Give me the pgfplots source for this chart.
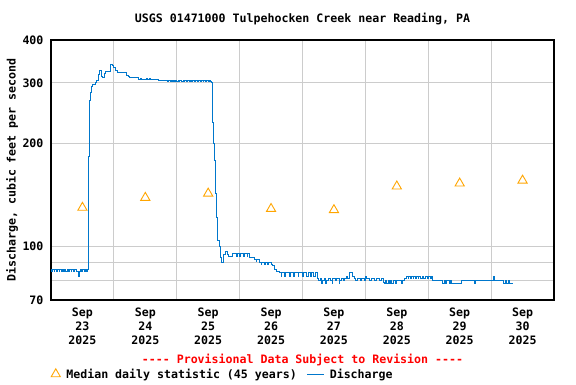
\documentclass[border=0pt]{standalone}
\usepackage{fontspec}
\setmainfont{DejaVu Sans Mono}[Ligatures=ResetAll]
\usepackage{pgfplots}
\pgfplotsset{compat=1.18}
\definecolor{qblue}{RGB}{0,119,204}
\definecolor{qorange}{RGB}{255,165,0}
\definecolor{qgrid}{RGB}{204,204,204}
\newcommand\ff{\fontsize{11.6}{14}\selectfont\bfseries}
\begin{document}
\begin{tikzpicture}
\path[use as bounding box] (0pt,0pt) rectangle (576pt,384pt);
\begin{axis}[
  at={(51pt,84pt)}, anchor=south west,
  scale only axis, width=503pt, height=260pt,
  xmin=0, xmax=8, ymode=log, ymin=70, ymax=400,
  xtick={0.5,1.5,2.5,3.5,4.5,5.5,6.5,7.5},
  xticklabels={{Sep\\23\\2025},{Sep\\24\\2025},{Sep\\25\\2025},{Sep\\26\\2025},{Sep\\27\\2025},{Sep\\28\\2025},{Sep\\29\\2025},{Sep\\30\\2025}},
  ytick={70,100,200,300,400}, yticklabels={70,100,200,300,400},
  minor xtick={1,2,3,4,5,6,7}, minor ytick={80,90},
  xminorgrids=true, ymajorgrids=true, yminorgrids=true,
  grid style={qgrid, line width=1pt},
  major grid style={qgrid, line width=1pt},
  minor grid style={qgrid, line width=1pt},
  major tick length=0pt, minor tick length=0pt,
  axis line style={line width=1.2pt},
  tick label style={font=\ff},
  xticklabel style={align=center, yshift=-4pt},
  yticklabel style={xshift=-4pt},
  legend style={at={(axis description cs:-0.006,-0.285)}, anchor=west, draw=none, fill=none, font=\ff, legend columns=2, /tikz/every even column/.append style={column sep=8pt}},
  legend cell align=left,
  clip=false,
]
\addplot[only marks, mark=triangle, mark size=5.3pt, color=qorange, mark options={line width=0.9pt}] coordinates {
(0.5,130)(1.5,139)(2.5,143)(3.5,129)(4.5,128)(5.5,150)(6.5,153)(7.5,156)};
\addlegendentry{\hspace{4pt}Median daily statistic (45 years)}
\addplot[qblue, line width=0.9pt, const plot, mark=none] coordinates {
(0,86)(0.015,85)(0.025,86)(0.05,85)(0.06,86)(0.09,85)(0.1,86)(0.13,85)(0.14,86)(0.16,85)(0.175,86)(0.2,85)(0.21,86)(0.235,85)(0.26,86)(0.28,85)(0.29,86)(0.32,85)(0.33,86)(0.36,85)(0.38,86)(0.4,85)(0.42,85)(0.44,82)(0.45,85)(0.47,86)(0.49,85)(0.5,86)(0.53,85)(0.54,86)(0.56,85)(0.575,86)
(0.593,125)(0.603,183)(0.615,266)(0.63,282)(0.645,292)(0.665,296)(0.7,301)(0.727,305)(0.752,318)(0.768,326)(0.806,314)(0.82,311)(0.845,320)(0.87,324)(0.94,340)(0.985,338)(1.0,333)(1.03,327)(1.06,322)(1.2,316)(1.225,313)(1.25,311)(1.39,308)(1.43,310)(1.44,308)(1.52,310)(1.535,308)(1.57,310)(1.585,308)(1.71,306)
(1.84,306)(1.86,302)(1.87,306)(1.9,302)(1.91,306)(1.93,302)(1.95,306)(1.97,302)(1.98,306)(2.0,302)(2.02,306)(2.04,302)(2.05,306)(2.08,302)(2.1,306)(2.12,302)(2.13,306)(2.16,302)(2.17,306)(2.2,302)(2.22,306)(2.24,302)(2.25,306)(2.28,302)(2.3,306)(2.33,302)(2.34,306)(2.37,302)(2.39,306)(2.42,302)(2.43,306)(2.46,302)(2.48,306)(2.5,302)(2.52,306)(2.54,302)(2.555,300)
(2.564,230)(2.58,200)(2.607,178)(2.618,143)(2.634,122)(2.65,104)(2.676,100)(2.698,93)(2.714,90)(2.739,93)(2.75,95)(2.782,97)(2.81,95)(2.83,94)(2.893,95.5)(2.95,94)(2.96,95.5)(3.0,94)(3.02,95.5)(3.06,94)(3.08,95.5)(3.12,94)(3.13,95.5)(3.164,93)(3.243,92)(3.26,90.5)(3.27,92)(3.323,90)(3.34,89)(3.35,90)(3.4,89)(3.41,90)(3.45,89)(3.46,90)(3.5,89)(3.53,88)(3.56,86)(3.593,85)
(3.64,84)(3.66,82)(3.67,84)(3.72,82)(3.73,84)(3.78,84)(3.8,82)(3.81,84)(3.86,82)(3.87,84)(3.93,82)(3.94,84)(3.98,84)(4.0,82)(4.01,84)(4.05,84)(4.07,82)(4.09,84)(4.13,82)(4.14,84)(4.18,82)(4.2,84)
(4.23,81)(4.26,80)(4.28,81)(4.3,78)(4.31,80)(4.35,81)(4.37,78)(4.38,80)(4.42,81)(4.44,80)(4.47,78)(4.48,81)(4.52,80)(4.54,81)(4.58,78)(4.59,80)(4.62,81)(4.65,80)(4.67,81)(4.7,82)(4.72,81)(4.75,84)(4.8,82)
(4.82,81)(4.85,80)(4.87,81)(4.92,80)(4.94,81)(4.98,80)(5.0,82)(5.02,81)(5.06,80)(5.1,81)(5.15,80)(5.17,81)(5.22,80)(5.25,81)
(5.28,79)(5.3,78)(5.32,80)(5.34,78)(5.36,80)(5.38,78)(5.4,80)(5.42,78)(5.44,80)(5.48,78)(5.5,80)(5.55,80)(5.57,78)(5.59,80)(5.62,81)
(5.66,82)(5.68,81)(5.69,82)(5.72,81)(5.73,82)(5.76,81)(5.77,82)(5.8,81)(5.81,82)(5.84,81)(5.85,82)(5.88,81)(5.9,82)(5.93,81)(5.95,82)(5.98,81)(6.0,82)(6.03,81)(6.05,82)
(6.07,80)(6.23,78)(6.25,80)(6.27,78)(6.29,80)(6.33,78)(6.35,80)(6.375,78)(6.534,80)(6.74,78)(6.75,80)(7.043,82)(7.055,80)(7.19,80)(7.2,78)(7.22,80)(7.25,78)(7.27,80)(7.29,78)(7.345,78)};
\addlegendentry{\hspace{3pt}Discharge}
\node[font=\ff, text=red] at (axis description cs:0.5,-0.231) {-{}-{}-{}- Provisional Data Subject to Revision -{}-{}-{}-};
\node[font=\ff] at (axis description cs:0.5,1.081) {USGS 01471000 Tulpehocken Creek near Reading, PA};
\node[font=\ff, rotate=90] at (axis description cs:-0.0775,0.5) {Discharge, cubic feet per second};
\end{axis}
\end{tikzpicture}
\end{document}
